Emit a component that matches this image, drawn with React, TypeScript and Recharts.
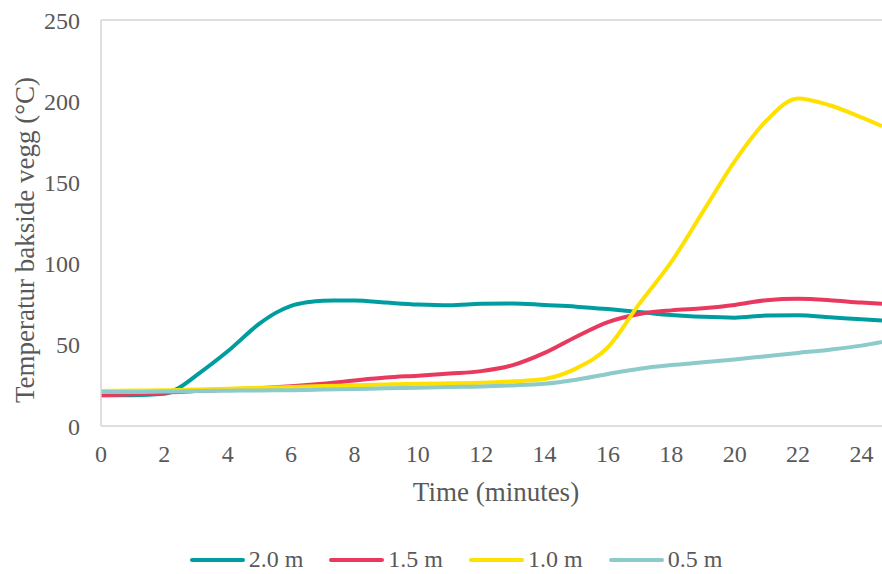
import { LineChart, Line, XAxis, YAxis, ReferenceLine, Legend } from "recharts";

const times = [0, 1, 2, 2.5, 3, 4, 5, 5.5, 6, 6.5, 7, 8, 9, 10, 11, 12, 13, 14, 15, 16, 17, 18, 19, 20, 21, 22, 23, 24, 24.65];

const s20 = [19, 19, 19.8, 24, 31, 46, 63, 69.5, 74, 76.2, 77.2, 77.3, 76, 74.8, 74.3, 75.3, 75.5, 74.5, 73.5, 72, 70.2, 68.3, 67.2, 66.7, 68, 68.2, 67, 65.7, 65];
const s15 = [19, 19.5, 20.5, 21, 21.5, 22.3, 23.3, 23.9, 24.5, 25.2, 26, 28, 29.8, 31, 32.3, 33.8, 37.5, 45, 55, 64, 69, 71.2, 72.5, 74.5, 77.5, 78.3, 77.5, 76, 75.3];
const s10 = [21.5, 21.8, 22, 22.2, 22.5, 23, 23.5, 23.7, 24, 24.3, 24.6, 25.1, 25.6, 26, 26.3, 26.6, 27.5, 29, 35.5, 48.5, 75.5, 101, 132, 163, 188, 201.7, 197.5, 190, 184.6];
const s05 = [21, 21, 21.2, 21.3, 21.5, 21.7, 21.9, 21.95, 22, 22.2, 22.4, 22.8, 23.2, 23.6, 24, 24.3, 25, 26, 28.5, 32, 35.3, 37.5, 39.2, 41, 43, 45, 47, 49.5, 51.7];

const xTicks = [0, 2, 4, 6, 8, 10, 12, 14, 16, 18, 20, 22, 24];
const yTicks = [0, 50, 100, 150, 200, 250];

const seriesNames = ["2.0 m", "1.5 m", "1.0 m", "0.5 m"];
const seriesKeys = ["s20", "s15", "s10", "s05"];
const seriesColors = ["#009DA0", "#E8395F", "#FFE100", "#8DCACA"];

const data = times.map((t, i) => ({ t, s20: s20[i], s15: s15[i], s10: s10[i], s05: s05[i] }));

const font = "'Liberation Serif', 'Times New Roman', serif";
const textColor = "#595959";
const axisColor = "#d4d4d4";

function LegendContent() {
  return (
    <div
      style={{
        display: "flex",
        justifyContent: "center",
        alignItems: "center",
        paddingLeft: 30,
        paddingTop: 8,
        fontFamily: font,
        fontSize: 24,
        color: textColor,
      }}
    >
      {seriesNames.map((n, i) => (
        <div key={n} style={{ display: "flex", alignItems: "center", marginRight: i < 3 ? 26 : 0 }}>
          <div style={{ width: 55, height: 4, borderRadius: 2, background: seriesColors[i], marginRight: 4 }} />
          <span>{n}</span>
        </div>
      ))}
    </div>
  );
}

export default function App() {
  return (
    <div style={{ position: "absolute", left: 0, top: 0, width: 882, height: 574, background: "#fff" }}>
      <LineChart width={882} height={574} data={data} margin={{ top: 20, right: 0, bottom: 0, left: 0 }}>
        <XAxis
          dataKey="t"
          type="number"
          domain={[0, 24.65]}
          ticks={xTicks}
          allowDataOverflow
          height={112}
          stroke={axisColor}
          strokeWidth={1.5}
          tickLine={false}
          tickSize={0}
          tickMargin={19}
          tick={{ fill: textColor, fontSize: 24, fontFamily: font }}
          label={{
            content: () => (
              <text x={496} y={492} textAnchor="middle" dominantBaseline="central" fill={textColor} fontSize={27} fontFamily={font}>
                Time (minutes)
              </text>
            ),
          }}
        />
        <YAxis
          type="number"
          domain={[0, 250]}
          ticks={yTicks}
          width={101}
          stroke={axisColor}
          strokeWidth={1.5}
          tickLine={false}
          tickSize={0}
          tickMargin={21}
          tick={{ fill: textColor, fontSize: 24, fontFamily: font }}
          label={{
            content: () => (
              <text
                x={25}
                y={240}
                transform="rotate(-90, 25, 240)"
                textAnchor="middle"
                dominantBaseline="central"
                fill={textColor}
                fontSize={27}
                fontFamily={font}
              >
                Temperatur bakside vegg (°C)
              </text>
            ),
          }}
        />
        <ReferenceLine y={250} stroke={axisColor} strokeWidth={1.5} />
        <Legend verticalAlign="bottom" height={36} content={LegendContent} />
        {seriesKeys.map((k, i) => (
          <Line
            key={k}
            dataKey={k}
            name={seriesNames[i]}
            type="monotone"
            stroke={seriesColors[i]}
            strokeWidth={4}
            dot={false}
            isAnimationActive={false}
          />
        ))}
      </LineChart>
    </div>
  );
}
